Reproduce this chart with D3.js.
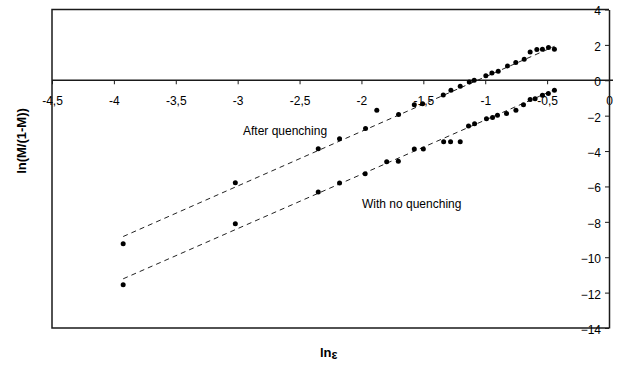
<!DOCTYPE html>
<html>
<head>
<meta charset="utf-8">
<script src="https://cdn.jsdelivr.net/npm/d3@7"></script>
<style>
  html, body { margin: 0; padding: 0; background: #fff; }
  svg { display: block; font-family: "Liberation Sans", Arial, sans-serif; }
</style>
</head>
<body>
<svg id="chart" width="620" height="368"></svg>
<script>
// ---- data ----
const quenchX = [-3.925, -3.019, -2.349, -2.177, -1.967, -1.876, -1.700, -1.573, -1.506, -1.339, -1.277, -1.202, -1.129, -1.089, -0.995, -0.946, -0.895, -0.820, -0.753, -0.685, -0.637, -0.583, -0.538, -0.489, -0.441];
const quenchY = [-9.24, -5.79, -3.87, -3.30, -2.72, -1.70, -1.94, -1.38, -1.32, -0.83, -0.57, -0.34, -0.10, 0.00, 0.26, 0.41, 0.51, 0.81, 1.00, 1.19, 1.60, 1.74, 1.75, 1.85, 1.75];
const noQuenchX = [-3.925, -3.019, -2.349, -2.177, -1.970, -1.796, -1.702, -1.573, -1.500, -1.336, -1.280, -1.202, -1.135, -1.086, -0.990, -0.941, -0.901, -0.828, -0.752, -0.691, -0.637, -0.597, -0.538, -0.490, -0.441];
const noQuenchY = [-11.55, -8.11, -6.32, -5.81, -5.28, -4.60, -4.58, -3.89, -3.89, -3.47, -3.47, -3.47, -2.59, -2.45, -2.17, -2.11, -1.98, -1.88, -1.70, -1.38, -1.08, -1.04, -0.85, -0.75, -0.57];
// trend line end points (x, y) as drawn in the reference
const quenchTrendX = [-3.925, -0.44];
const quenchTrendY = [-8.83, 1.92];
const noQuenchTrendX = [-3.925, -0.44];
const noQuenchTrendY = [-11.22, -0.53];
const xTicks = [-4.5, -4, -3.5, -3, -2.5, -2, -1.5, -1, -0.5, 0];
const yTicks = [4, 2, 0, -2, -4, -6, -8, -10, -12, -14];
const seriesLabels = ["After quenching", "With no quenching"];
const xTitle = "ln";
const xTitleSym = "ε";
const yTitle = "ln(M/(1-M))";

// ---- drawing ----
(function () {
const svg = d3.select("#chart");
const mLeft = 52, mRight = 609, mTop = 9.5, mBottom = 328;
const x = d3.scaleLinear().domain([-4.5, 0]).range([mLeft, mRight]);
const y = d3.scaleLinear().domain([-14, 4]).range([mBottom, mTop]);
const ink = "#1a1a1a";

// frame: top, left, bottom
svg.append("path")
  .attr("d", `M${mRight},${mTop}H${mLeft}V${mBottom}H${mRight}`)
  .attr("fill", "none").attr("stroke", ink).attr("stroke-width", 1.5);

const fmt = d => String(d).replace(".", ",");

// x axis along y = 0
const gx = svg.append("g")
  .attr("transform", `translate(0,${y(0)})`)
  .call(d3.axisBottom(x).tickValues(xTicks).tickFormat(fmt).tickSize(4).tickSizeOuter(0).tickPadding(12));
gx.select(".domain").attr("stroke", ink).attr("stroke-width", 1.5)
  .attr("d", `M${mLeft},0H${mRight + 4}`);
gx.selectAll(".tick line").attr("stroke", ink);
gx.selectAll(".tick text").attr("font-size", 12).attr("fill", "#000")
  .attr("font-family", "'Liberation Sans', Arial, sans-serif");

// y axis on the right edge (x = 0)
const gy = svg.append("g")
  .attr("transform", `translate(${mRight},0)`)
  .call(d3.axisLeft(y).tickValues(yTicks).tickSize(4).tickSizeOuter(0).tickPadding(4));
gy.select(".domain").attr("stroke", ink).attr("stroke-width", 1.5);
gy.selectAll(".tick line").attr("stroke", ink);
gy.selectAll(".tick text").attr("font-size", 12).attr("fill", "#000").attr("dy", "0.45em")
  .attr("font-family", "'Liberation Sans', Arial, sans-serif");

// trend lines
const line = d3.line().x(d => x(d[0])).y(d => y(d[1]));
[[quenchTrendX, quenchTrendY], [noQuenchTrendX, noQuenchTrendY]].forEach(([tx, ty]) => {
  svg.append("path")
    .datum(d3.zip(tx, ty))
    .attr("d", line)
    .attr("fill", "none")
    .attr("stroke", "#222")
    .attr("stroke-width", 1)
    .attr("stroke-dasharray", "5,4");
});

// points
[[quenchX, quenchY], [noQuenchX, noQuenchY]].forEach(([px, py]) => {
  svg.append("g").selectAll("circle")
    .data(d3.zip(px, py))
    .join("circle")
    .attr("cx", d => x(d[0]))
    .attr("cy", d => y(d[1]))
    .attr("r", 2.5)
    .attr("fill", "#000");
});

// annotations
svg.append("text").attr("x", 243).attr("y", 135).attr("font-size", 12).attr("fill", "#000").text(seriesLabels[0]);
svg.append("text").attr("x", 362).attr("y", 208).attr("font-size", 12).attr("fill", "#000").text(seriesLabels[1]);

// axis titles
svg.append("text")
  .attr("transform", `translate(26,141) rotate(-90)`)
  .attr("text-anchor", "middle")
  .attr("font-size", 13).attr("font-weight", "bold")
  .text(yTitle);

const xt = svg.append("text")
  .attr("x", 320).attr("y", 357)
  .attr("font-size", 13).attr("font-weight", "bold");
xt.append("tspan").text(xTitle);
xt.append("tspan").attr("font-size", 12.5).attr("dy", 2).text(xTitleSym);
})();
</script>
</body>
</html>
